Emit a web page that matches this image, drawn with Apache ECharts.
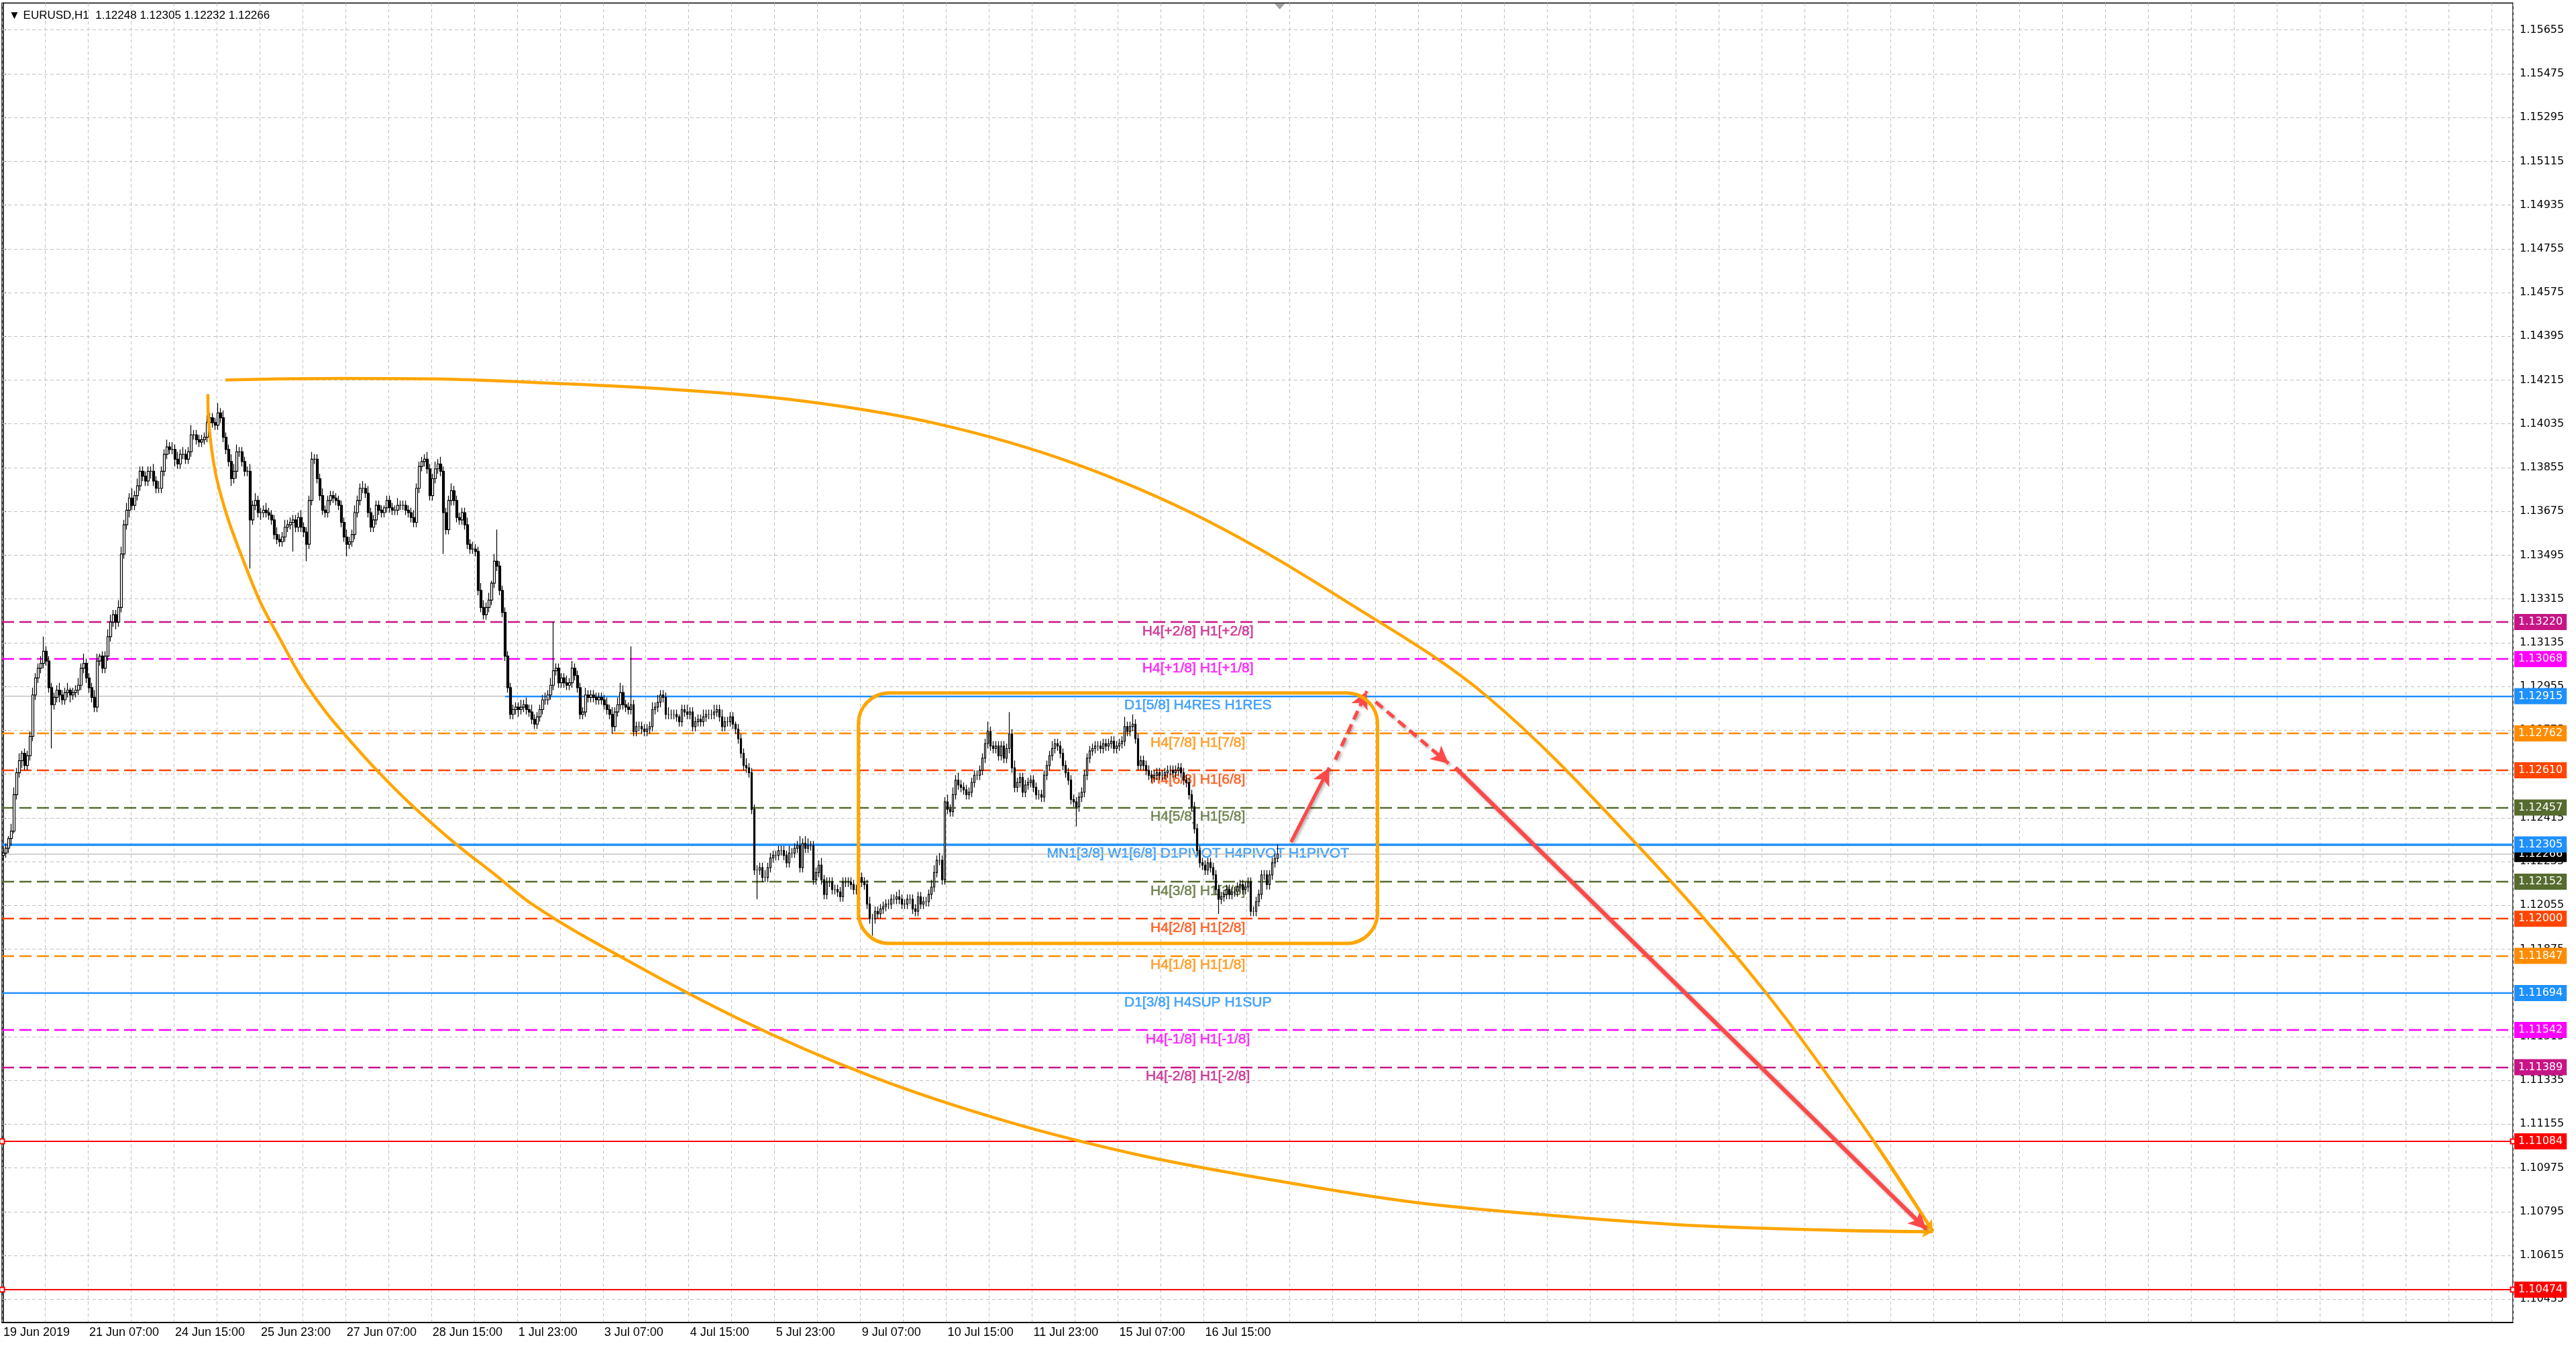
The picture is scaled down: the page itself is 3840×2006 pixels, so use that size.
<!DOCTYPE html>
<html><head><meta charset="utf-8">
<script src="https://cdn.jsdelivr.net/npm/echarts@6/dist/echarts.min.js"></script>
<style>html,body{margin:0;padding:0;background:#fff}#c{width:3840px;height:2006px}</style>
</head><body><div id="c"></div>
<script>
// ---------------- DATA ----------------
const symbolName = 'EURUSD,H1';
const lastQuote = [1.12248, 1.12305, 1.12232, 1.12266]; // O H L C of last bar
const firstOpenPips = 226;            // pips above 1.1000
// H1 closes, pips above 1.1000, from 19 Jun 2019 23:00
const closePips = [
227,229,233,236,251,260,265,268,263,267, 275,292,299,303,305,310,306,295,288,291,
294,292,290,293,294,292,293,294,296,303, 305,299,295,291,287,306,308,303,308,316,
322,325,322,328,350,362,368,373,370,374, 378,384,382,380,384,384,380,377,377,384,
391,394,393,393,389,387,391,391,389,392, 399,399,397,396,397,398,404,406,404,403,
408,406,398,393,388,381,384,392,392,388, 384,384,364,370,372,367,367,368,367,366,
364,358,356,355,357,361,362,363,364,361, 365,361,359,354,372,389,389,381,374,368,
367,372,374,373,372,370,363,357,354,355, 358,367,372,377,377,375,367,361,364,370,
368,367,369,372,369,368,368,370,370,370, 368,367,365,363,377,386,388,389,385,374,
381,385,387,384,367,360,372,376,372,365, 364,367,362,354,352,352,351,335,328,325,
328,331,338,347,345,335,326,308,295,284, 286,287,286,287,288,286,285,282,280,283,
286,290,290,292,296,302,303,297,299,297, 296,297,303,300,295,284,285,292,291,292,
291,290,291,290,288,286,284,279,285,288, 293,288,287,286,288,277,279,279,278,277,
278,279,286,287,289,292,291,284,284,284, 284,283,281,286,285,284,285,279,281,282,
281,283,284,284,284,285,286,283,279,281, 281,283,280,278,274,268,263,262,260,245,
220,220,221,217,217,221,225,226,226,228, 228,226,223,227,227,229,230,221,231,229,
230,230,216,219,222,216,210,215,215,212, 212,211,209,215,215,215,214,212,212,217,
215,214,206,200,200,203,202,204,205,206, 206,208,208,209,208,206,206,208,208,204,
203,209,206,207,207,210,213,219,224,224, 216,248,245,244,251,257,255,254,253,251,
252,256,259,259,261,266,272,277,271,270, 271,267,271,266,270,276,262,254,256,258,
252,255,256,257,254,251,251,250,259,263, 267,270,272,271,268,263,260,257,249,248,
246,250,252,259,266,269,270,271,271,270, 272,271,272,273,270,271,272,273,279,277,
279,280,274,263,265,263,261,259,258,259, 260,259,259,260,261,261,260,261,262,260,
257,256,251,246,237,228,223,222,220,223, 221,218,212,208,209,210,212,210,211,211,
213,214,212,213,215,203,203,207,210,218, 218,214,218,223,224.8,226.6
];
// upper / lower wick length of each bar in pips (base-36 digits)
const upperWickRows = [
'2213323122','2322362222','2322312232','4222331223','3223323242','3222223232','2323232322','4222223222',
'4232233322','2232322232','2232232222','2322232223','2222222232','2322323222','2212222322','2223222232',
'2323222322','2223232233','2313d22222','2223232322','22323k2222','3232222322','2222232323','4322o22222',
'2232322232','2212232222','2322232232','2221222322','2222322222','2223222423','3222232222','2222222223',
'2223222222','2222322222','2222223323','2232323222','2222222422','2222292322','2222222222','2322222222',
'2222222222','2222222242','2422222222','2222222222','2222222222','2222222222','2222222222','222222'];
const lowerWickRows = [
'2223122322','22222222i2','2322232222','2222222222','2232222322','2222232222','2222322222','2222222222',
'2222232322','22k2223222','22222222c2','2227222222','2222222252','2222222222','2222222222','2222222222',
'2222h22222','2222222222','2222222222','2232222222','2222222222','2222222222','2222222322','2222222222',
'2222222222','2222222222','2222222222','2222222222','2c22222222','2222222222','2222222222','2222222222',
'2222722222','2222222222','2222222222','2222222222','2222222222','2222222222','2222222222','2222222222',
'8222222222','2222222222','2222222222','2222222222','2222222222','2226222222','2222222222','222222'];

const timeLabels = ['19 Jun 2019','21 Jun 07:00','24 Jun 15:00','25 Jun 23:00','27 Jun 07:00','28 Jun 15:00',
  '1 Jul 23:00','3 Jul 07:00','4 Jul 15:00','5 Jul 23:00','9 Jul 07:00','10 Jul 15:00','11 Jul 23:00',
  '15 Jul 07:00','16 Jul 15:00'];
const yTickLabels = ['1.15655','1.15475','1.15295','1.15115','1.14935','1.14755','1.14575','1.14395','1.14215',
  '1.14035','1.13855','1.13675','1.13495','1.13315','1.13135','1.12955','1.12775','1.12595','1.12415','1.12235',
  '1.12055','1.11875','1.11695','1.11515','1.11335','1.11155','1.10975','1.10795','1.10615','1.10435'];

const levelValues = [1.13220,1.13068,1.12915,1.12762,1.12610,1.12457,1.12305,1.12152,1.12000,1.11847,1.11694,1.11542,1.11389];
const levelNames = ['H4[+2/8] H1[+2/8]','H4[+1/8] H1[+1/8]','D1[5/8] H4RES H1RES','H4[7/8] H1[7/8]','H4[6/8] H1[6/8]',
  'H4[5/8] H1[5/8]','MN1[3/8] W1[6/8] D1PIVOT H4PIVOT H1PIVOT','H4[3/8] H1[3/8]','H4[2/8] H1[2/8]','H4[1/8] H1[1/8]',
  'D1[3/8] H4SUP H1SUP','H4[-1/8] H1[-1/8]','H4[-2/8] H1[-2/8]'];
const levelColors = ['#C71585','#FF00FF','#1E90FF','#FF8C00','#FF4500','#556B2F','#1E90FF','#556B2F','#FF4500','#FF8C00','#1E90FF','#FF00FF','#C71585'];
const levelDashed = [true,true,false,true,true,true,false,true,true,true,false,true,true];
const levelStartBar = [0,0,187,0,0,0,0,0,0,0,0,0,0];
const redLevels = [1.11084, 1.10474];
const bidPrice = 1.12266;
const shiftMarkBar = 475.8;

// drawn objects, in [bar index, price]
const boxCorners = [318.75, 1.12928, 512.25, 1.11898];
const upperArc = [[82.75,1.14216],[126.25,1.14222],[164.5,1.14219],[198.75,1.14205],[248.75,1.14177],[298.75,1.14128],
  [348.75,1.14034],[398.75,1.13874],[448.75,1.13637],[502,1.13295],[552.75,1.12917],[608.75,1.12307],[656.25,1.11706],
  [697.25,1.11085],[719.25,1.10715]];
const lowerArc = [[76.25,1.14158],[76.6,1.14034],[79,1.13838],[83,1.13670],[88,1.13515],[95.75,1.13303],[103.25,1.13148],
  [111,1.12994],[120,1.12853],[127.5,1.12754],[139,1.12613],[151.75,1.12472],[168.5,1.12309],[183.75,1.12177],
  [196.5,1.12064],[218.5,1.11915],[273.75,1.11590],[323.25,1.11353],[373.5,1.11168],[423.75,1.11027],[473.75,1.10924],
  [526.25,1.10833],[579,1.10778],[631.5,1.10737],[684.25,1.10718],[719.25,1.10712]];
const arrowsSolid = [[[480,1.12315],[494.25,1.12621]], [[541.25,1.12621],[716.75,1.10723]]];
const arrowsDashed = [[[496.5,1.12654],[508.25,1.12936]], [[511.5,1.12892],[538.75,1.12638]]];
const labelBar = 445.3;

// ---------------- BUILD ----------------
const barSlots = 936;
const xEnd = barSlots - 0.5;
const yMin = 1.10339, yMax = 1.15766;
const MON = ['Jan','Feb','Mar','Apr','May','Jun','Jul','Aug','Sep','Oct','Nov','Dec'];
const cats = [];
for (let t = Date.UTC(2019,5,19,23); cats.length < barSlots; t += 3600000) {
  const d = new Date(t), wd = d.getUTCDay();
  if (wd === 0 || wd === 6) continue;
  cats.push(d.getUTCDate()+' '+MON[d.getUTCMonth()]+' '+String(d.getUTCHours()).padStart(2,'0')+':00');
}
const upW = upperWickRows.join(''), dnW = lowerWickRows.join('');
const P = p => +(1.1 + p/10000).toFixed(5);
const candles = closePips.map((c,i) => {
  const o = i === 0 ? firstOpenPips : closePips[i-1];
  const hi = Math.max(o,c) + parseInt(upW[i],36);
  const lo = Math.min(o,c) - parseInt(dnW[i],36);
  return [P(o), P(c), P(lo), P(hi)];
});
candles[candles.length-1] = [lastQuote[0], lastQuote[3], lastQuote[2], lastQuote[1]];
const yTickValues = yTickLabels.map(Number);

const AXF = 'DejaVu Sans', TXF = 'Liberation Sans, Arial, sans-serif';
const boxLabel = (txt, bg) => ({show:true, position:'end', distance:2, formatter:txt, backgroundColor:bg, color:'#fff',
  padding:[3,6,3,6], fontFamily:AXF, fontSize:16, lineHeight:18});
const hLine = (v, x0, style, label, sym) => [
  {coord:[x0, v], symbol: sym || 'none', symbolSize:7},
  {coord:[xEnd, v], symbol: sym || 'none', symbolSize:7, lineStyle:style, label: label || {show:false}}
];

const levelLineData = levelValues.map((v,k) => hLine(v, levelStartBar[k] ? levelStartBar[k] : -0.5,
  {color:levelColors[k], type: levelDashed[k] ? [18,8] : 'solid', width: k === 6 ? 3.5 : 2.3, opacity:1},
  boxLabel(v.toFixed(5), levelColors[k])));
redLevels.forEach(v => levelLineData.push(hLine(v, -0.5, {color:'#FF0000', type:'solid', width:1.8, opacity:1},
  boxLabel(v.toFixed(5), '#FF0000'), 'emptyRect')));

const arrowShadow = {shadowColor:'rgba(0,0,0,0.35)', shadowBlur:4, shadowOffsetX:2, shadowOffsetY:2};
const arrowData = [];
arrowsSolid.forEach((a,k) => arrowData.push([{coord:a[0]},{coord:a[1],
  lineStyle:Object.assign({color:'#FF4848', width: k ? 6 : 5, type:'solid'}, arrowShadow)}]));
arrowsDashed.forEach(a => arrowData.push([{coord:a[0]},{coord:a[1],
  lineStyle:Object.assign({color:'#FF4848', width:5, type:[14,8]}, arrowShadow)}]));

const arcSeries = (pts) => ({
  type:'line', xAxisIndex:1, yAxisIndex:0, data:pts, smooth:0.35, showSymbol:false, silent:true, z:6,
  lineStyle:{color:'#FFA500', width:4.5},
  markLine:{silent:true, precision:5, symbol:['none','arrow'], symbolSize:[13,16], label:{show:false},
    lineStyle:{color:'#FFA500', width:4.5, type:'solid'},
    data:[[{coord:pts[pts.length-2]},{coord:pts[pts.length-1]}]]}
});

const option = {
  animation:false,
  backgroundColor:'#fff',
  title:{text:'\u25BC '+symbolName+'  '+lastQuote.map(v=>v.toFixed(5)).join(' '), left:8, top:10,
    textStyle:{fontFamily:TXF, fontSize:17, fontWeight:'normal', color:'#000'}},
  grid:{left:3, right:94, top:4.5, bottom:35, show:true, borderColor:'#000', borderWidth:1.5, backgroundColor:'#fff'},
  xAxis:[{
    type:'category', data:cats, boundaryGap:true,
    axisLine:{lineStyle:{color:'#000', width:1.5}},
    axisTick:{interval:(i)=> i%32===0 && i/32 < timeLabels.length, alignWithLabel:true, length:4, lineStyle:{color:'#000'}},
    axisLabel:{interval:(i)=> i%32===0 && i/32 < timeLabels.length, formatter:(v,i)=>timeLabels[i/32]||'',
      align:'left', margin:6, fontFamily:TXF, fontSize:18, color:'#000'},
    splitLine:{show:true, interval:(i)=> i%16===0, lineStyle:{color:'#C0C0C0', type:[5,4], width:1}}
  },{
    type:'value', min:-0.5, max:xEnd, show:false
  }],
  yAxis:[{
    type:'value', position:'right', min:yMin, max:yMax, scale:true,
    axisLine:{show:true, lineStyle:{color:'#000', width:1.5}},
    axisTick:{show:true, customValues:yTickValues, length:4, lineStyle:{color:'#000'}},
    axisLabel:{customValues:yTickValues, formatter:(v)=>{const k=yTickValues.findIndex(t=>Math.abs(t-v)<1e-7);return k>=0?yTickLabels[k]:'';},
      margin:10, fontFamily:AXF, fontSize:16, color:'#000'},
    splitLine:{show:false}
  }],
  series:[
    { // horizontal grid
      type:'line', xAxisIndex:1, data:[], silent:true, z:1,
      markLine:{silent:true, precision:5, symbol:['none','none'], label:{show:false},
        lineStyle:{color:'#C0C0C0', type:[5,4], width:1},
        data:yTickValues.map(v=>hLine(v, -0.5, {color:'#C0C0C0', type:[5,4], width:1}))}
    },
    { // bid line + gray level line + chart shift marker
      type:'line', xAxisIndex:1, data:[], silent:true, z:2,
      markLine:{silent:true, precision:5, symbol:['none','none'], data:[
        hLine(bidPrice, -0.5, {color:'#C0C0C0', type:'solid', width:1.5}, boxLabel(bidPrice.toFixed(5), '#000')),
        hLine(levelValues[2], -0.5, {color:'#A8A8A8', type:'solid', width:1.2})
      ]},
      markPoint:{silent:true, symbol:'triangle', symbolRotate:180, symbolSize:[16,9], symbolOffset:[0,5],
        itemStyle:{color:'#A0A0A0'}, label:{show:false}, data:[{coord:[shiftMarkBar, yMax]}]}
    },
    { // murrey levels
      type:'line', xAxisIndex:1, data:[], silent:true, z:4,
      markLine:{silent:true, precision:5, symbol:['none','none'], data:levelLineData}
    },
    { // level names
      type:'scatter', xAxisIndex:1, silent:true, z:3, symbolSize:1, itemStyle:{color:'rgba(0,0,0,0)'},
      data: levelValues.map((v,k)=>({value:[labelBar, v],
        label:{color:levelColors[k], textBorderColor:levelColors[k], textBorderWidth:0.6}})),
      label:{show:true, position:'bottom', distance:3, formatter:(p)=>levelNames[p.dataIndex],
        fontFamily:TXF, fontSize:21}
    },
    {
      type:'candlestick', data:candles, z:5, barWidth:3, silent:true,
      itemStyle:{color:'#fff', color0:'#000', borderColor:'#000', borderColor0:'#000', borderWidth:1.2}
    },
    { // rounded box
      type:'custom', xAxisIndex:1, silent:true, z:6, data:[boxCorners],
      encode:{x:[0,2], y:[1,3]},
      renderItem:(params, api) => {
        const a = api.coord([api.value(0), api.value(1)]);
        const b = api.coord([api.value(2), api.value(3)]);
        return {type:'rect', shape:{x:a[0], y:a[1], width:b[0]-a[0], height:b[1]-a[1], r:46},
          style:{fill:'none', stroke:'#FFA500', lineWidth:5}};
      }
    },
    arcSeries(upperArc),
    arcSeries(lowerArc),
    { // red arrows
      type:'line', xAxisIndex:1, data:[], silent:true, z:7,
      markLine:{silent:true, precision:5, symbol:['none','arrow'], symbolSize:[20,26], label:{show:false},
        itemStyle:{color:'#FF4848'}, data:arrowData}
    }
  ]
};
const chart = echarts.init(document.getElementById('c'), null, {renderer:'canvas'});
chart.setOption(option);
</script>
</body></html>
